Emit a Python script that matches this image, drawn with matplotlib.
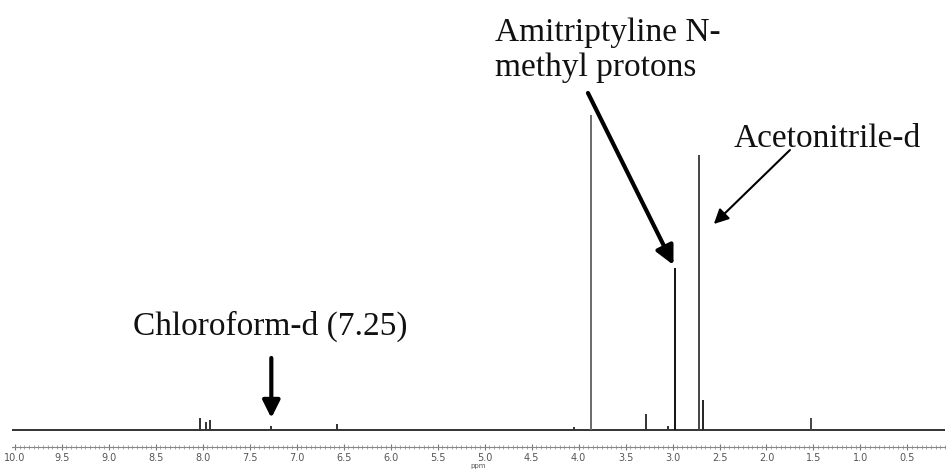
import matplotlib
matplotlib.use("Agg")
import matplotlib.pyplot as plt
from matplotlib.ticker import MultipleLocator, FormatStrFormatter

# peak list (ppm, height in arbitrary units)
peak_ppm = [8.03, 7.97, 7.92, 7.27, 6.57, 4.05, 3.87, 3.28, 3.05, 2.97, 2.72, 2.68, 1.53]
peak_height = [12, 8, 10, 4, 6, 3, 315, 16, 4, 162, 275, 30, 12]
peak_color = ['#333333'] * 6 + ['#6a6a6a', '#333333', '#333333', '#111111', '#444444', '#222222', '#444444']

fig = plt.figure(figsize=(9.47, 4.74), dpi=100)
ax = fig.add_axes([12 / 947, 27 / 474, 933 / 947, 447 / 474])

ax.axhline(0, color='#333333', lw=1.4, zorder=1)
ax.vlines(peak_ppm, 0, peak_height, colors=peak_color, lw=1.4, zorder=2)

ax.set_xlim(10.03, 0.1)
ax.set_ylim(-17, 430)

for s in ['top', 'left', 'right']:
    ax.spines[s].set_visible(False)
ax.spines['bottom'].set_color('#888888')
ax.spines['bottom'].set_linewidth(0.8)
ax.set_yticks([])
ax.xaxis.set_major_locator(MultipleLocator(0.5))
ax.xaxis.set_minor_locator(MultipleLocator(0.05))
ax.xaxis.set_major_formatter(FormatStrFormatter('%.1f'))
ax.tick_params(axis='x', which='major', direction='inout', length=5, width=0.8,
               color='#777777', labelsize=7, labelcolor='#555555', pad=2)
ax.tick_params(axis='x', which='minor', direction='inout', length=3, width=0.6, color='#999999')
ax.set_xlabel('ppm', fontsize=5, color='#555555', labelpad=0)

serif = dict(family='Liberation Serif', fontsize=24, color='#111111')

ax.text(4.89, 413, 'Amitriptyline N-\nmethyl protons', ha='left', va='top', linespacing=1.2, **serif)
ax.text(2.35, 283, 'Acetonitrile-d', ha='left', va='baseline', **serif)
ax.text(8.74, 95, 'Chloroform-d (7.25)', ha='left', va='baseline', **serif)

ax.annotate('', xy=(7.27, 12), xytext=(7.27, 72),
            arrowprops=dict(arrowstyle='-|>', lw=3, color='black', mutation_scale=26,
                            shrinkA=0, shrinkB=0))
ax.annotate('', xy=(2.99, 165), xytext=(3.90, 337),
            arrowprops=dict(arrowstyle='-|>', lw=3, color='black', mutation_scale=28,
                            shrinkA=0, shrinkB=0))
ax.annotate('', xy=(2.56, 206), xytext=(1.75, 280),
            arrowprops=dict(arrowstyle='-|>', lw=1.5, color='black', mutation_scale=22,
                            shrinkA=0, shrinkB=0))

fig.savefig('out.png', dpi=100)
